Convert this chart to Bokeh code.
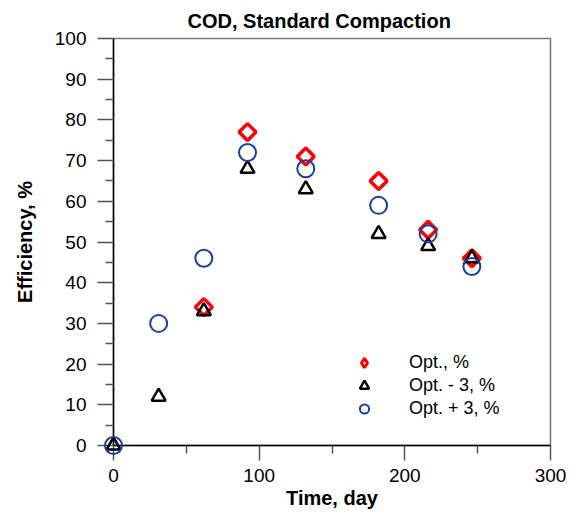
import math
from bokeh.plotting import figure
from bokeh.models import Range1d, FixedTicker, Legend, LegendItem, ColumnDataSource
from bokeh.embed import file_html
from bokeh.resources import INLINE

# Data
opt_days = [62, 92, 132, 182, 216, 246]
opt_eff = [34, 77, 71, 65, 53, 46]

minus_days = [0, 31, 62, 92, 132, 182, 216, 246]
minus_eff = [0, 12, 33, 68, 63, 52, 49, 46]

plus_days = [0, 31, 62, 92, 132, 182, 216, 246]
plus_eff = [0, 30, 46, 72, 68, 59, 52, 44]

x_ticks = [0, 100, 200, 300]
x_minor = [50, 150, 250]
y_ticks = list(range(0, 101, 10))
y_minor = list(range(5, 100, 10))

FONT = "Liberation Sans"

p = figure(width=566, height=516, output_backend="svg", toolbar_location=None,
           x_range=Range1d(0, 300), y_range=Range1d(0, 100),
           min_border_left=113, min_border_right=16, min_border_top=38, min_border_bottom=71)

p.title.text = "COD,  Standard Compaction"
p.title.text_font = FONT
p.title.text_font_size = "20px"
p.title.text_font_style = "bold"
p.title.text_color = "black"
p.title.align = "left"
p.title.offset = 74
p.title.standoff = 14

p.grid.visible = False
p.outline_line_color = "#777777"
p.outline_line_width = 1.5
p.background_fill_color = "white"
p.border_fill_color = "white"

for ax, ticks, minor in ((p.xaxis[0], x_ticks, x_minor), (p.yaxis[0], y_ticks, y_minor)):
    ax.ticker = FixedTicker(ticks=ticks, minor_ticks=minor)
    ax.axis_line_color = "black"
    ax.axis_line_width = 1.5
    ax.major_tick_line_color = "#555555"
    ax.major_tick_line_width = 1.5
    ax.minor_tick_line_color = "#555555"
    ax.minor_tick_line_width = 1.5
    ax.major_tick_out = 15
    ax.major_tick_in = 0
    ax.minor_tick_out = 8
    ax.minor_tick_in = 0
    ax.major_label_text_font = FONT
    ax.major_label_text_font_size = "19px"
    ax.major_label_text_color = "black"
    ax.axis_label_text_font = FONT
    ax.axis_label_text_font_size = "20px"
    ax.axis_label_text_font_style = "bold"
    ax.axis_label_text_color = "black"

p.yaxis.major_tick_out = 16
p.xaxis.axis_label = "Time, day"
p.yaxis.axis_label = "Efficiency, %"
p.xaxis.major_label_standoff = 8
p.yaxis.major_label_standoff = 11
p.xaxis.axis_label_standoff = 2
p.yaxis.axis_label_standoff = 16

src_opt = ColumnDataSource(dict(x=opt_days, y=opt_eff))
src_minus = ColumnDataSource(dict(x=minus_days, y=minus_eff))
src_plus = ColumnDataSource(dict(x=plus_days, y=plus_eff))

r_opt = p.scatter("x", "y", source=src_opt, marker="square", size=12, angle=math.pi / 4,
                  line_color="#ff0000", line_width=3.5, fill_alpha=0, level="overlay")
r_minus = p.scatter("x", "y", source=src_minus, marker="triangle", size=14,
                    line_color="black", line_width=2.5, fill_alpha=0, level="overlay")
r_plus = p.scatter("x", "y", source=src_plus, marker="circle", size=17,
                   line_color="#1440a8", line_width=2, fill_alpha=0, level="overlay")

# legend-only glyph so that the key shows a diamond (legend ignores marker angle)
r_opt_key = p.scatter(x=[float("nan")], y=[float("nan")], marker="diamond", size=12,
                      line_color="#ff0000", line_width=3, fill_alpha=0)

legend = Legend(items=[
    LegendItem(label="Opt., %", renderers=[r_opt_key]),
    LegendItem(label="Opt. - 3, %", renderers=[r_minus]),
    LegendItem(label="Opt. + 3, %", renderers=[r_plus]),
], location=(236, 25))
legend.border_line_alpha = 0
legend.background_fill_alpha = 0
legend.padding = 0
legend.margin = 0
legend.spacing = 0
legend.glyph_width = 30
legend.glyph_height = 23
legend.label_height = 23
legend.label_standoff = 30
legend.label_text_font = FONT
legend.label_text_font_size = "18px"
legend.label_text_color = "black"
p.add_layout(legend, "center")

open("out.html", "w").write(file_html(p, INLINE))
